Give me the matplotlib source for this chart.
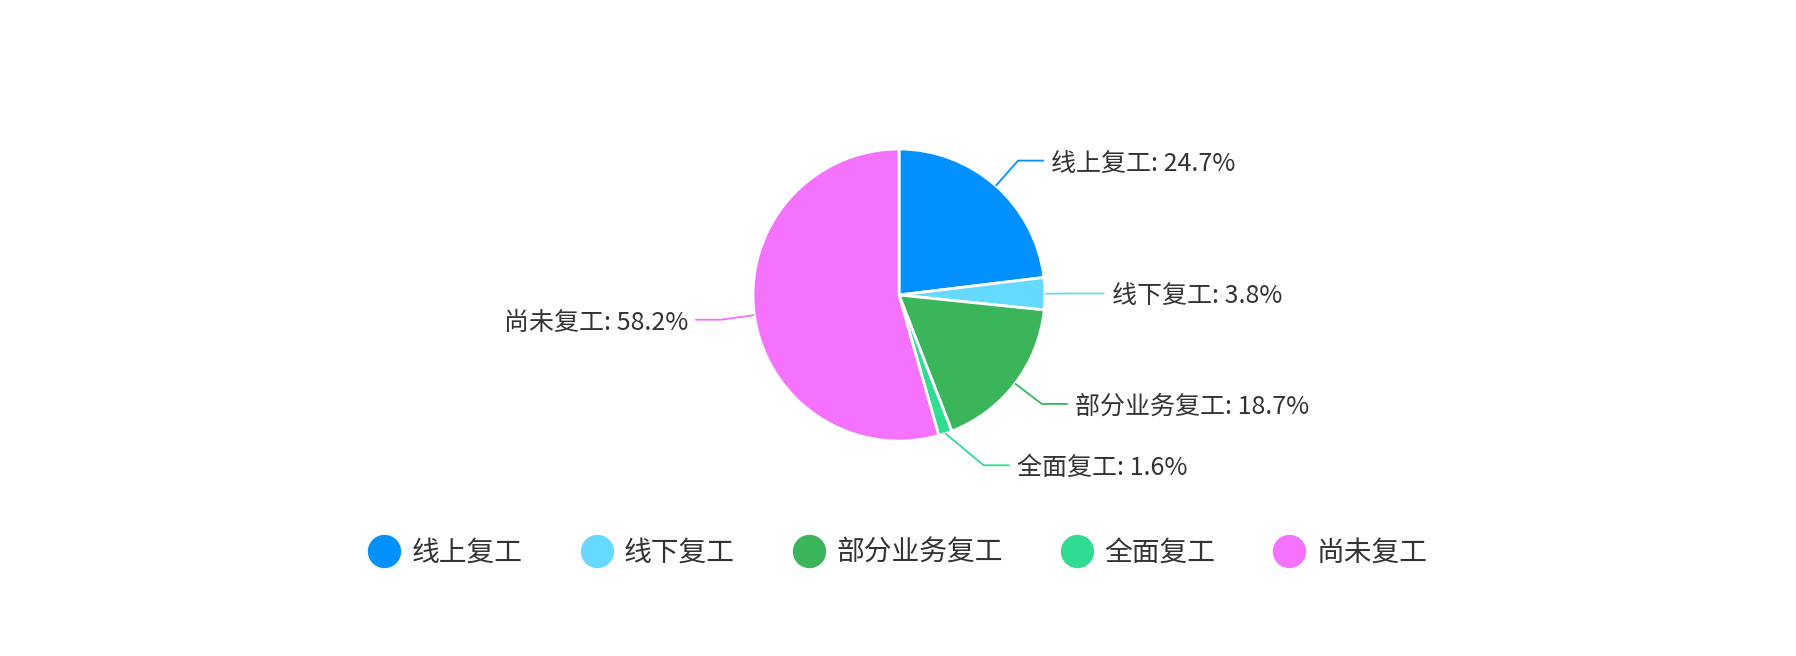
import numpy as np
import matplotlib.pyplot as plt
from matplotlib.lines import Line2D

plt.rcParams['font.family'] = ['Noto Sans CJK SC', 'DejaVu Sans']

# Data
categories = ['线上复工', '线下复工', '部分业务复工', '全面复工', '尚未复工']
values = [24.7, 3.8, 18.7, 1.6, 58.2]
colors = ['#0391FF', '#66D9FF', '#3AB55A', '#2FDC92', '#F572FF']
TEXT_COLOR = '#333333'

W, H = 1796, 656
R_PX = 146.0           # pie radius in pixels
CX, CY = 899.0, 295.0  # pie centre (pixels from top-left)


def main():
    fig = plt.figure(figsize=(W / 100, H / 100), dpi=100)
    ax = fig.add_axes([0, 0, 1, 1])
    ax.axis('off')

    wedges, _ = ax.pie(values, colors=colors, startangle=90, counterclock=False,
                       radius=1.0, center=(0, 0),
                       wedgeprops=dict(edgecolor='white', linewidth=2))
    # 1 data unit == R_PX pixels in both directions
    ax.set_xlim(-CX / R_PX, (W - CX) / R_PX)
    ax.set_ylim(-(H - CY) / R_PX, CY / R_PX)
    ax.set_aspect('auto')

    # Leader lines + labels
    elbow_r = 1.23
    min_dx = 0.58          # keep bottom labels clear of the pie
    horiz = 26 / R_PX
    gap = 7 / R_PX
    text_dy = -3 / R_PX
    for w, cat, val, col in zip(wedges, categories, values, colors):
        ang = np.deg2rad((w.theta1 + w.theta2) / 2)
        x0, y0 = np.cos(ang), np.sin(ang)
        x1, y1 = elbow_r * x0, elbow_r * y0
        side = 1 if x0 >= 0 else -1
        x1 = side * max(abs(x1), min_dx)
        x2 = x1 + side * horiz
        ax.plot([x0, x1, x2], [y0, y1, y1], color=col, linewidth=1.3,
                solid_capstyle='butt')
        ax.text(x2 + side * gap, y1 + text_dy, f'{cat}: {val}%', fontsize=18,
                color=TEXT_COLOR, va='center',
                ha='left' if side > 0 else 'right')

    # Legend
    handles = [Line2D([], [], marker='o', linestyle='none', markersize=23,
                      markerfacecolor=c, markeredgecolor=c) for c in colors]
    fig.legend(handles, categories, loc='center', bbox_to_anchor=(0.5, 1 - 553 / H),
               ncol=5, frameon=False, fontsize=20, handlelength=1.15,
               handletextpad=0.4, columnspacing=2.1, labelcolor=TEXT_COLOR)

    fig.savefig('out.png', dpi=100, facecolor='white')


if __name__ == '__main__':
    main()
